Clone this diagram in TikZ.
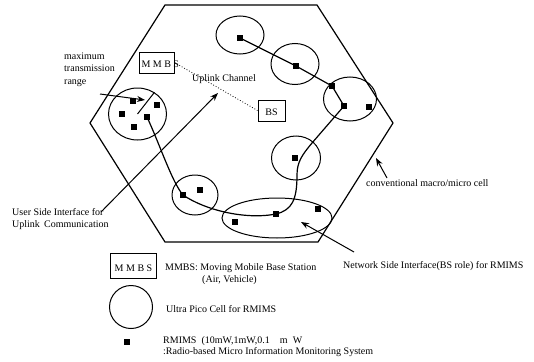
\documentclass[tikz,border=0pt]{standalone}
\usepackage{fontspec}
\setmainfont{Liberation Serif}
\usetikzlibrary{shapes.geometric,arrows.meta}

\begin{document}
\begin{tikzpicture}[x=1pt,y=-1pt]
		\tikzstyle{dot}=[rectangle, fill=black, minimum size=6.5pt, inner sep=0pt]
		\tikzstyle{cell}=[ellipse, draw, line width=1pt, inner sep=0pt]
		\tikzstyle{box}=[rectangle, draw, line width=1pt, inner xsep=2.5pt, inner ysep=0pt, font=\fontsize{10}{12}\selectfont]
		\tikzstyle{txt}=[anchor=base west, inner sep=0pt, font=\fontsize{10}{12.5}\selectfont]
		\tikzstyle{pointer}=[line width=1pt, -{Stealth[length=8pt,width=6pt]}]
		\useasboundingbox (0,0) rectangle (534,361);
		\draw[line width=1.2pt]{
			(165,5)--(317,5)--(393,123)--(318,242)--(165,242)--(90,123)--cycle
		};
		\node[cell, minimum width=58pt, minimum height=52pt] (c1) at (137.5,114) {};
		\node[cell, minimum width=48pt, minimum height=38pt] (c2) at (240,35) {};
		\node[cell, minimum width=48pt, minimum height=41pt] (c3) at (295,64) {};
		\node[cell, minimum width=53pt, minimum height=44pt] (c4) at (350,99) {};
		\node[cell, minimum width=49pt, minimum height=44pt] (c5) at (296,158) {};
		\node[cell, minimum width=46pt, minimum height=40pt] (c6) at (195,195) {};
		\node[cell, minimum width=110pt, minimum height=40pt] (c7) at (277,218) {};
		\node[dot] (l1) at (133,101) {};
		\node[dot] (l2) at (157,105) {};
		\node[dot] (l3) at (122,114) {};
		\node[dot] (l4) at (147,117) {};
		\node[dot] (l5) at (134,127) {};
		\node[dot] (t1) at (240,38) {};
		\node[dot] (t2) at (296,66) {};
		\node[dot] (r1) at (332,86) {};
		\node[dot] (r2) at (344,106) {};
		\node[dot] (r3) at (369,107) {};
		\node[dot] (m1) at (295,158) {};
		\node[dot] (b1) at (183,195) {};
		\node[dot] (b2) at (200,190) {};
		\node[dot] (e1) at (235,222) {};
		\node[dot] (e2) at (276,214) {};
		\node[dot] (e3) at (318,209) {};
		\draw[line width=1.2pt]{
			(t1.center)--(t2.center)--(r1.center)--(r2.center)--(312,143)
			.. controls (302,155) and (297,162) .. (297,175)
			.. controls (297,200) and (292,210) .. (e2.center)
			.. controls (245,220) and (205,210) .. (b1.center)
			.. controls (172,182) and (160,145) .. (l4.center)
		};
		\draw[line width=1pt]{(c1.center)--(c1.52)};
		\node[box] (mmbs) at (156.5,62.5) {\makebox[30pt][l]{M M B S}\rule[-6pt]{0pt}{21pt}};
		\node[box, minimum width=27pt] (bs) at (271.5,110.5) {BS\rule[-6pt]{0pt}{21pt}};
		\draw[line width=0.8pt, dotted]{(mmbs.east)--(bs.west)};
		\node[txt] (upl) at (192,81) {Uplink Channel};
		\node[txt, anchor=north west, align=left] (maxr) at (64,52.5) {maximum\\transmission\\range};
		\node[txt, anchor=north west, align=left] (usi) at (12,208) {User Side Interface for\\Uplink\ \,Communication};
		\node[txt] (conv) at (366,186) {conventional macro/micro cell};
		\node[txt] (nsi) at (343,268) {Network Side Interface(BS role) for RMIMS};
		\coordinate (maxrs) at (100,94);
		\coordinate (maxre) at (145,100);
		\coordinate (usis) at (101,212);
		\coordinate (usie) at (218,93);
		\coordinate (convs) at (387,178);
		\coordinate (conve) at (376,158);
		\coordinate (nsis) at (354,252);
		\coordinate (nsie) at (301,222);
		\draw[pointer] (maxrs)--(maxre);
		\draw[pointer] (usis)--(usie);
		\draw[pointer] (convs)--(conve);
		\draw[pointer] (nsis)--(nsie);
		\node[box, inner xsep=4.5pt] (lgbox) at (133.5,265.5) {M M B S\rule[-7pt]{0pt}{25pt}};
		\node[cell, minimum size=43pt] (lgcell) at (131,307) {};
		\node[dot] (lgdot) at (127,342) {};
		\node[txt] (lgt1) at (165,270) {MMBS: Moving Mobile Base Station};
		\node[txt] (lgt2) at (202,282.5) {(Air, Vehicle)};
		\node[txt] (lgt3) at (166,312) {Ultra Pico Cell for RMIMS};
		\node[txt, anchor=north west, align=left, font=\fontsize{10}{11.5}\selectfont] (lgt4) at (163,336) {RMIMS\ \ (10mW,1mW,0.1\quad m\ \ W\\:Radio-based Micro Information Monitoring System};
	\end{tikzpicture}
\end{document}
